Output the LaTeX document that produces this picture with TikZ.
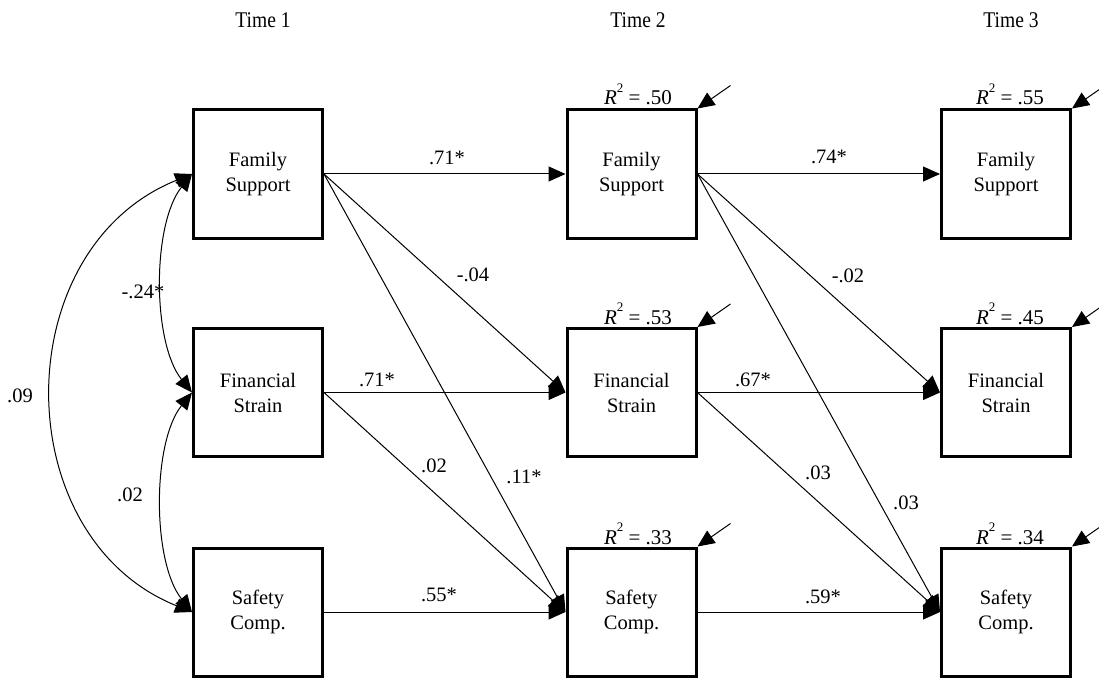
\documentclass[tikz,border=0pt]{standalone}
\usepackage{fontspec}
\setmainfont{Liberation Serif}
\usetikzlibrary{arrows.meta,calc}
\tikzset{
  box/.style={draw, line width=3pt, minimum width=129pt, minimum height=128pt,
    inner sep=0pt, align=center, font=\fontsize{20.5}{25}\selectfont},
  lbl/.style={inner sep=0pt, font=\fontsize{20.5}{25}\selectfont},
  tlbl/.style={inner sep=0pt, yscale=1.15, font=\fontsize{19.5}{23}\selectfont},
  rsq/.style={inner sep=0pt, anchor=base, font=\fontsize{21}{25}\selectfont},
  tip/.style={line width=1pt, -{Triangle[length=17pt,width=15pt]}},
  dtip/.style={line width=1pt, {Triangle[length=17pt,width=15pt]}-{Triangle[length=17pt,width=15pt]}}
}
\newcommand{\Rsq}[1]{\textit{R}\raisebox{0.6em}{\fontsize{13}{13}\selectfont 2} = #1}
\begin{document}
\begin{tikzpicture}[x=1pt,y=-1pt]
\useasboundingbox (0,0) rectangle (1099,679);
\clip (0,0) rectangle (1099,679);
% time labels
\node[tlbl] (t1) at (263,20) {Time 1};
\node[tlbl] (t2) at (638,20) {Time 2};
\node[tlbl] (t3) at (1011,20) {Time 3};
% boxes
\node[box] (fs1) at (258,174) {Family\\Support};
\node[box] (fin1) at (258,392.5) {Financial\\Strain};
\node[box] (sc1) at (258,612) {Safety\\Comp.};
\node[box] (fs2) at (631.5,174) {Family\\Support};
\node[box] (fin2) at (631.5,392.5) {Financial\\Strain};
\node[box] (sc2) at (631.5,612) {Safety\\Comp.};
\node[box] (fs3) at (1006,174) {Family\\Support};
\node[box] (fin3) at (1006,392.5) {Financial\\Strain};
\node[box] (sc3) at (1006,612) {Safety\\Comp.};
% R squared
\node[rsq] (r1) at (638,105) {\Rsq{.50}};
\node[rsq] (r2) at (638,324) {\Rsq{.53}};
\node[rsq] (r3) at (638,544) {\Rsq{.33}};
\node[rsq] (r4) at (1010,105) {\Rsq{.55}};
\node[rsq] (r5) at (1010,324) {\Rsq{.45}};
\node[rsq] (r6) at (1010,544) {\Rsq{.34}};
% error arrows
\foreach \n in {fs2,fin2,sc2,fs3,fin3,sc3}{
  \draw[tip] ($(\n.north east)+(33,-23)$) -- (\n.north east);
}
% paths time1 -> time2
\draw[tip] (fs1.east) -- (fs2.west);
\draw[tip] (fs1.east) -- (fin2.west);
\draw[tip] (fs1.east) -- (sc2.west);
\draw[tip] (fin1.east) -- (fin2.west);
\draw[tip] (fin1.east) -- (sc2.west);
\draw[tip] (sc1.east) -- (sc2.west);
% paths time2 -> time3
\draw[tip] (fs2.east) -- (fs3.west);
\draw[tip] (fs2.east) -- (fin3.west);
\draw[tip] (fs2.east) -- (sc3.west);
\draw[tip] (fin2.east) -- (fin3.west);
\draw[tip] (fin2.east) -- (sc3.west);
\draw[tip] (sc2.east) -- (sc3.west);
% covariances
\draw[dtip] (fs1.west) .. controls +(-40,50) and +(-40,-50) .. (fin1.west);
\draw[dtip] (fin1.west) .. controls +(-40,50) and +(-40,-50) .. (sc1.west);
\draw[dtip] (fs1.west) .. controls +(-186,75) and +(-186,-75) .. (sc1.west);
% path labels
\node[lbl] (l1) at (447,158) {.71*};
\node[lbl] (l2) at (473,275) {-.04};
\node[lbl] (l3) at (377,380) {.71*};
\node[lbl] (l4) at (434,466) {.02};
\node[lbl] (l5) at (524,477) {.11*};
\node[lbl] (l6) at (439,595) {.55*};
\node[lbl] (l7) at (829,157) {.74*};
\node[lbl] (l8) at (848,276) {-.02};
\node[lbl] (l9) at (753,380) {.67*};
\node[lbl] (l10) at (818,473) {.03};
\node[lbl] (l11) at (906,503) {.03};
\node[lbl] (l12) at (823,597) {.59*};
\node[lbl] (c1) at (143,292) {-.24*};
\node[lbl] (c2) at (130,495) {.02};
\node[lbl] (c3) at (20,396) {.09};
\end{tikzpicture}
\end{document}
